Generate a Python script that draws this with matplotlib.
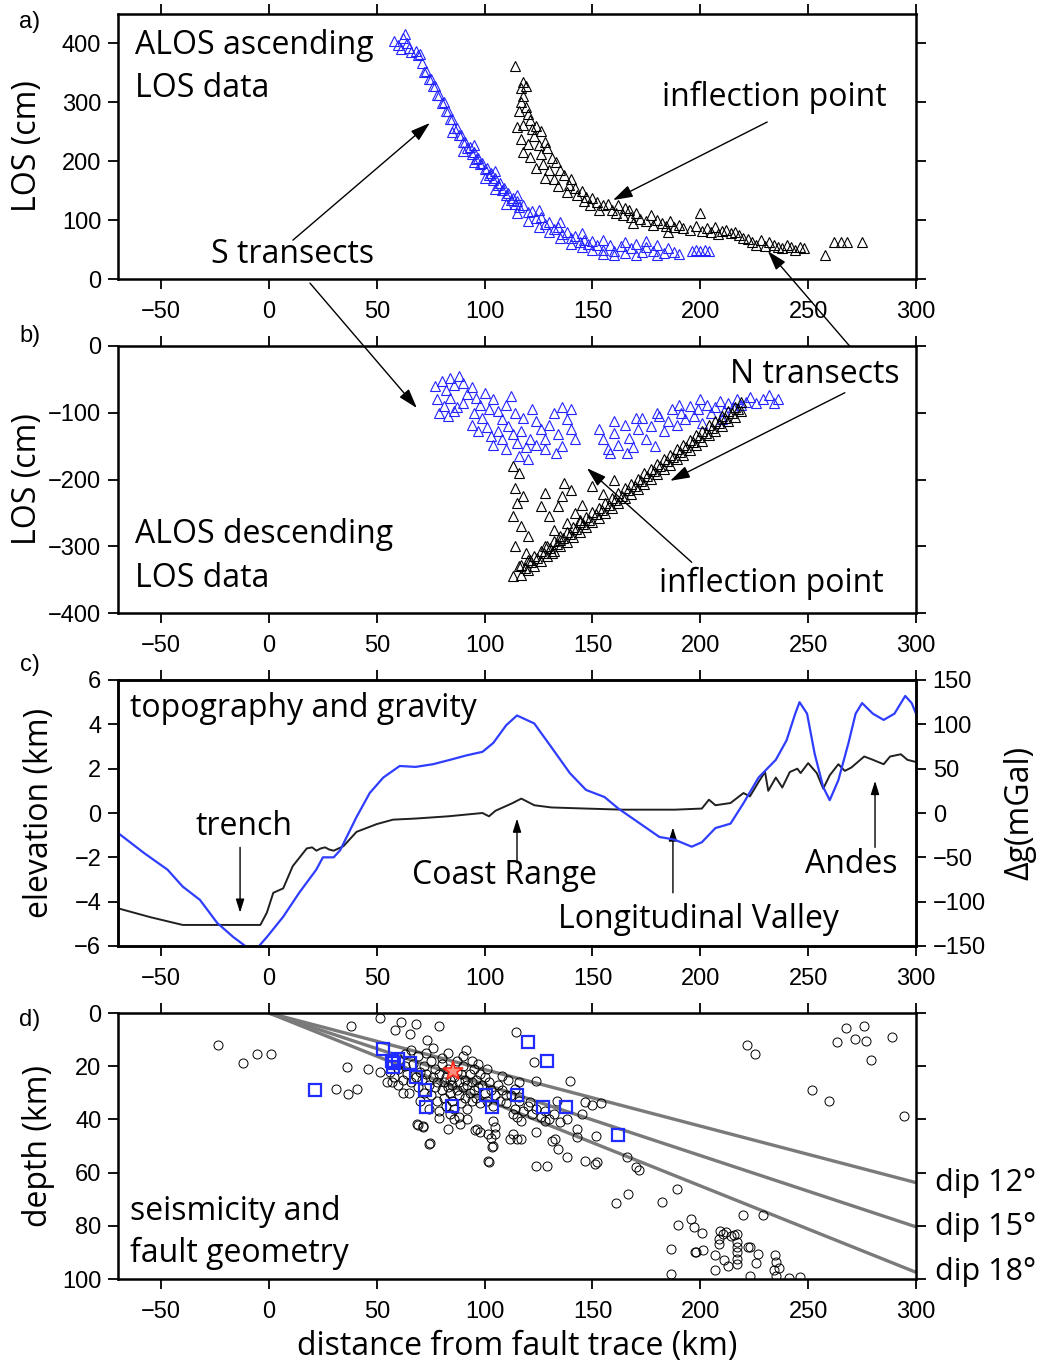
import matplotlib.pyplot as plt
import numpy as np

plt.rcParams['font.family'] = ['Liberation Sans', 'DejaVu Sans']
plt.rcParams['axes.unicode_minus'] = True

TEXT_FONT = ['Open Sans', 'DejaVu Sans']
BLUE = '#2323ff'
GRAV_BLUE = '#2f3dff'

# ---- a) ascending LOS, S transects (blue) and N transects (black)
asc_s_x = [58, 60, 61, 62, 63, 64, 65, 66, 68, 69, 70,
           71, 72, 73, 74, 75, 76, 77, 78, 79, 80, 81, 82, 83, 84, 85, 86, 87, 88, 89, 90,
           91, 92, 93, 94, 95, 96, 97, 98, 99, 100, 101, 102, 103, 104, 105, 106, 107, 108,
           109, 110, 111, 112, 113, 114, 115, 116,
           118, 120, 122, 124, 126, 128, 130, 132, 134, 136, 138, 140, 142, 144, 146, 148, 150, 152,
           155, 158, 160, 163, 165, 168, 170, 173, 175, 178, 180, 183, 185, 188,
           196, 198, 200, 202, 204,
           85, 90, 95, 100, 105, 110, 115, 120, 125, 130, 135, 140, 145, 150, 155, 160, 170, 180, 190,
           95, 105, 115, 125, 135, 145, 155, 165, 175]
asc_s_y = [405, 398, 390, 410, 416, 400, 392, 385, 388, 380, 382,
           366, 352, 354, 340, 339, 328, 327, 313, 312, 299, 300, 285, 285, 271, 271, 257, 257, 244, 244, 232,
           233, 222, 224, 213, 215, 204, 206, 195, 197, 186, 188, 177, 180, 168, 171, 160, 163, 151,
           154, 143, 146, 134, 137, 128, 132, 123,
           125, 113, 115, 103, 105, 93, 96, 85, 88, 77, 80, 70, 73, 63, 67, 60, 64, 57,
           50, 58, 48, 56, 45, 52, 60, 46, 55, 48, 58, 44, 52, 46,
           48, 50, 48, 50, 48,
           250, 218, 198, 172, 152, 128, 112, 98, 88, 80, 70, 60, 54, 50, 42, 40, 40, 40, 42,
           228, 184, 142, 118, 96, 78, 66, 62, 64]

asc_n_x = [114, 117, 118, 119, 118, 117, 119, 116, 120, 121, 118, 115, 122, 124, 126, 123, 117, 120,
           125, 128, 129, 126, 121, 118, 131, 133, 127, 124, 130, 135, 137, 132, 128, 140, 139, 134,
           142, 145, 138, 143, 147, 150, 146, 152, 155, 149, 157, 159, 153, 162, 161, 165, 167, 164,
           168, 170, 172, 169, 175, 177, 178, 180, 182, 184, 186, 188, 185, 190, 192, 195, 198, 200,
           201, 203, 205, 207, 208, 210, 212, 214, 216, 218, 220, 222, 224, 226, 228, 230, 232, 234,
           236, 238, 240, 242, 244, 246, 248, 258, 262, 265, 268, 275]
asc_n_y = [362, 325, 335, 328, 310, 300, 292, 285, 280, 270, 262, 258, 255, 260, 252, 242, 238, 230,
           228, 232, 222, 212, 208, 215, 205, 198, 196, 188, 185, 185, 176, 170, 172, 170, 160, 158,
           155, 150, 148, 142, 140, 138, 132, 130, 126, 125, 128, 118, 118, 125, 112, 120, 118, 108,
           105, 112, 102, 95, 98, 108, 92, 100, 95, 90, 98, 88, 80, 92, 86, 84, 90, 112,
           82, 86, 80, 88, 76, 82, 84, 78, 80, 74, 70, 68, 63, 58, 66, 56, 62, 58,
           55, 52, 58, 54, 50, 55, 52, 40, 62, 62, 63, 62]

# ---- b) descending LOS
desc_s_x = [77, 80, 82, 84, 86, 88, 90, 78, 81, 84, 87, 90, 79, 83, 86, 92, 94, 96, 98, 100, 102,
            95, 99, 104, 106, 108, 110, 112, 94, 97, 101, 103, 106, 108, 111, 113, 115, 117, 119,
            121, 104, 110, 116, 120, 114, 118, 122, 124, 126, 128, 130, 132, 134, 136, 138, 140,
            142, 140, 136, 128, 124, 133,
            153, 155, 157, 160, 162, 165, 167, 169, 171, 173, 175, 177, 179, 181, 183, 185, 187,
            189, 191, 193, 195, 197, 199, 201, 203, 205, 207, 209, 211, 213, 215, 217, 219, 221,
            223, 226, 229, 232, 234, 236, 160, 170, 180, 190, 200, 210, 158, 166]
desc_s_y = [-60, -52, -66, -48, -58, -45, -55, -80, -90, -78, -92, -85, -100, -105, -98, -72, -62,
            -78, -88, -70, -95, -100, -108, -80, -98, -110, -88, -75, -118, -128, -122, -135, -128,
            -140, -120, -132, -145, -128, -152, -140, -148, -155, -165, -170, -100, -108, -95, -112,
            -125, -140, -118, -100, -132, -150, -110, -125, -140, -95, -92, -155, -148, -160,
            -125, -140, -155, -130, -148, -118, -138, -152, -125, -108, -140, -120, -150, -105,
            -128, -112, -95, -118, -100, -110, -90, -105, -95, -115, -88, -100, -92, -82, -98, -85,
            -92, -80, -88, -84, -76, -86, -80, -74, -86, -80, -112, -108, -100, -88, -80, -110,
            -160, -160]

desc_n_x = [113, 116, 114, 118, 115, 113, 117, 120, 114, 119, 113, 116, 121,
            126, 128, 130, 132, 134, 136, 138, 140, 135, 128, 131, 142, 144, 137,
            117, 117, 120, 120, 123, 123, 126, 126, 129, 129, 132, 132, 135, 135, 138, 138,
            141, 141, 144, 144, 147, 147, 150, 150, 153, 153, 156, 156, 159, 159, 162, 162,
            165, 165, 168, 168, 171, 171, 174, 174, 177, 177, 180, 180, 183, 183, 186, 186,
            189, 189, 192, 192, 195, 195, 198, 198, 201, 201, 204, 204, 207, 207, 210, 210,
            213, 213, 216, 216, 219, 219,
            118.5, 121.5, 124.5, 127.5, 130.5, 133.5, 136.5, 139.5, 142.5, 145.5, 148.5, 151.5,
            154.5, 157.5, 160.5, 163.5, 166.5, 169.5, 172.5, 175.5, 178.5, 181.5, 184.5, 187.5,
            190.5, 193.5, 196.5, 199.5, 202.5, 205.5, 208.5, 211.5, 214.5, 217.5,
            150, 155, 145, 160]
desc_n_y = [-180, -190, -212, -225, -235, -255, -270, -285, -300, -310, -345, -330, -320,
            -240, -220, -255, -275, -240, -225, -265, -215, -290, -300, -310, -250, -260, -205,
            -343, -328, -336, -321, -329, -314, -322, -307, -314, -299, -307, -292, -300, -285,
            -293, -278, -286, -271, -278, -263, -271, -256, -264, -249, -257, -242, -250, -235,
            -242, -227, -235, -220, -228, -213, -221, -206, -214, -199, -206, -191, -199, -184,
            -192, -177, -185, -170, -178, -163, -170, -155, -163, -148, -156, -141, -149, -134,
            -142, -127, -134, -119, -127, -112, -120, -105, -113, -98, -106, -91, -98, -84,
            -332, -324, -317, -310, -303, -296, -288, -281, -274, -267, -260, -252,
            -245, -238, -231, -224, -216, -209, -202, -195, -188, -180, -173, -166,
            -159, -152, -144, -137, -130, -123, -116, -108, -101, -94,
            -210, -222, -238, -200]

# ---- c) topography (km) and gravity anomaly (mGal)
topo_x = [-70, -55, -40, -24, -4, -1, 2, 6.6, 11, 17.5, 20, 22, 24, 26, 28, 30, 34.5, 40.6, 50,
          57.5, 68, 83, 99, 102, 105, 113, 117, 123, 131, 147, 164, 188, 200.7, 204, 207, 214,
          220, 223, 227, 230, 231.5, 235, 238, 241.5, 245, 246.5, 250, 254, 257, 260, 264, 267,
          270, 276, 280, 285, 288, 293, 296, 300]
topo_km = [-4.3, -4.7, -5.05, -5.05, -5.05, -4.5, -3.6, -3.4, -2.4, -1.6, -1.55, -1.7, -1.6,
           -1.55, -1.65, -1.7, -1.5, -0.85, -0.5, -0.3, -0.25, -0.15, 0, -0.15, 0.1, 0.45, 0.65,
           0.35, 0.25, 0.2, 0.15, 0.15, 0.2, 0.6, 0.35, 0.45, 0.9, 0.75, 1.4, 1.85, 1.0, 1.6,
           1.15, 1.85, 2.0, 1.8, 2.25, 1.8, 1.1, 1.7, 2.2, 1.9, 2.05, 2.55, 2.4, 2.2, 2.55, 2.65,
           2.4, 2.3]

grav_x = [-70, -58, -47, -40, -32, -24, -16.5, -11, -8, -4.6, -1, 6.6, 14, 21.9, 25, 30, 33,
          40.6, 46.7, 53, 60.6, 68, 76, 84, 91.6, 99, 104, 110, 115, 123, 131, 139.5, 147, 155.6,
          162, 171.5, 181, 188, 196, 200.7, 207, 214, 220, 227, 235, 240, 244, 246, 249.5, 253,
          257, 260, 264, 268.7, 272, 275, 280, 285, 290, 295, 298, 300]
grav_mgal = [-22.5, -45, -64, -83, -98, -124, -140, -150, -158, -150, -140, -117, -90, -64, -50,
             -50, -42, -4.5, 22.5, 40, 53, 52, 55, 60, 65, 69, 79, 99, 110, 101, 74, 45, 26, 18,
             5, -11, -27, -30, -38, -33, -17, -12, 11, 40, 60, 82, 112, 125, 112, 67, 29, 14.5,
             37, 79, 112, 124, 112, 105, 112, 132, 124, 112]

# ---- d) seismicity, focal-mechanism events, mainshock and dip lines
quake_x = [-23.6, -12, -5.6, 0.8, 31, 36.7, 40.6, 36.3, 38, 46, 51.5, 51.5, 54.5, 58.4, 61, 65.6,
           68.4, 73.4, 79, 69, 71.6, 74.5, 79, 83, 88.5, 86, 91.3, 101, 95.5, 98, 101.7, 104, 103,
           103.4, 102, 111.7, 114.5, 108, 111, 114,
           63, 116, 124, 123, 139.5, 110, 116, 121, 133.5, 146.5, 154, 145, 113, 115, 117, 128,
           105, 105, 96.5, 113, 117, 115, 124, 132.6, 134, 143, 143, 151.5, 138, 146.5, 151, 152,
           101.5, 104, 124, 129, 166, 170, 68.5, 71.5, 74, 150, 131, 171.5, 166.4, 161, 182, 189,
           189.6, 186.6, 186.4, 195.6, 197, 201, 197.5, 198, 201.3, 207, 209, 210.5, 212, 208.5,
           208.5, 207, 211, 213, 214, 215.5, 217, 217, 217, 217, 217, 217, 220, 222, 223, 226.7,
           226, 223, 229, 234.5, 235, 236.5, 234, 235, 241, 246, 221.6, 225.5, 252, 259.6, 263.5,
           267.5, 271.7, 275.7, 277, 279, 288.8, 294.6,
           56, 58, 60, 62, 63, 64, 66, 67, 68, 69, 70, 71, 72, 72, 73, 74, 75, 75, 76, 77, 77, 78,
           78, 79, 80, 80, 81, 81, 82, 82, 83, 83, 84, 84, 85, 85, 86, 86, 87, 87, 88, 88, 89, 89,
           90, 90, 91, 91, 92, 92, 93, 93, 94, 94, 95, 95, 96, 96, 97, 98, 98, 99, 100, 100, 101,
           102, 103, 104, 105, 106, 107, 108, 110, 112, 114, 116, 118, 120, 122, 124, 126, 128,
           130, 132, 135, 138, 65, 70, 74, 79, 84, 88, 92, 60, 62, 57, 66, 69, 73, 76, 80, 83, 87,
           90, 94, 97]
quake_d = [12, 18.7, 15.5, 15.3, 28.7, 30.5, 28.4, 20.2, 5, 21, 2, 22, 26, 6.4, 3.5, 8,
           4, 10, 4.8, 42, 43, 49, 39.6, 43.5, 41.6, 40, 14, 21, 44, 44.7, 45.6, 40.6, 47,
           50.5, 56, 47.5, 7, 23.7, 25.2, 28.4,
           15.4, 26, 25.4, 18.6, 25.4, 31, 31.7, 33.6, 33, 33.6, 34, 38, 38, 39.2, 40.5, 40.5,
           43, 45.5, 43.6, 45.5, 47.4, 47.4, 44.9, 47.4, 51.1, 43.6, 46.7, 46.4, 54.3, 55.5, 56.8,
           56.1, 55.5, 49.9, 57.4, 57.4, 54.3, 58, 41.7, 42.4, 49.3, 34.5, 48, 58.9, 68, 71.4,
           71, 66, 79.8, 88.6, 98, 77.5, 80.5, 82.7, 89.8, 90, 89, 96.7, 82, 83, 82.5, 85, 87, 91,
           93, 95, 84, 83.5, 83, 86, 88, 90, 92.5, 94.5, 76, 88, 88, 90.6, 94, 99, 76, 90.8, 93.7,
           96, 96.7, 99, 99.6, 99.4, 12, 15.4, 29, 33, 11, 5.6, 9.7, 4.8, 10.4, 17.5, 9, 38.6,
           22, 24, 21, 25, 20, 23, 26, 19, 24, 28, 22, 25, 30, 20, 23, 27, 31, 18, 24, 28, 21, 33,
           26, 23, 29, 19, 26, 32, 24, 35, 28, 21, 30, 25, 33, 27, 24, 36, 29, 22, 31, 26, 34, 23,
           28, 20, 32, 25, 27, 36, 23, 30, 26, 33, 21, 29, 25, 32, 28, 23, 34, 27, 30, 24, 33, 26,
           29, 35, 31, 27, 33, 29, 34, 31, 36, 33, 37, 35, 38, 36, 39, 37, 40, 38, 41, 40, 30, 33,
           36, 37, 38, 39, 40, 27, 30, 26, 14, 16, 15, 13, 17, 15, 18, 16, 18, 19]

mech_x = [21.3, 53, 57, 58, 60, 65.4, 57.7, 68, 72.3, 72.6, 85, 100.6, 103.4, 115, 120, 129,
          127, 137.7, 161.8]
mech_d = [29, 13.5, 17.9, 18.9, 17.3, 18.9, 20.4, 24, 29, 35.2, 34.8, 30.7, 35.2, 30.8, 11,
          17.9, 35.2, 35.2, 46]

main_x = [85.2]
main_d = [21.9]

dip_deg = [12, 15, 18]
dip_x = [0, 300]


fig = plt.figure(figsize=(10.44, 13.64), dpi=100)
W, H = 1044.0, 1364.0
FS = 23


def axes_px(left, top, right, bottom):
    return fig.add_axes([left / W, 1 - bottom / H, (right - left) / W, (bottom - top) / H])


def style(ax):
    for s in ax.spines.values():
        s.set_linewidth(1.8)
    ax.set_xlim(-70, 300)
    ax.set_xticks(np.arange(-50, 301, 50))
    ax.tick_params(direction='out', length=7, width=1.3, top=True, right=True,
                   labelsize=17)
    ax.tick_params(axis='x', pad=9)
    ax.tick_params(axis='y', pad=5)


def ylab(ax, s, xpos):
    ax.set_ylabel(s, family=TEXT_FONT, fontsize=FS, va='center')
    ax.yaxis.set_label_coords(xpos, 0.5)


def say(ax, x, y, s, **kw):
    kw.setdefault('fontsize', FS)
    ax.text(x, y, s, family=TEXT_FONT, **kw)


def arrow(ax, xy, xytext, small=False, textcoords='data'):
    if small:
        st = '-|>,head_length=0.9,head_width=0.28'
        ms, lw = 9, 1.0
    else:
        st = '-|>,head_length=0.8,head_width=0.25'
        ms, lw = 15, 1.0
    ax.annotate('', xy=xy, xytext=xytext, textcoords=textcoords, annotation_clip=False,
                arrowprops=dict(arrowstyle=st, mutation_scale=ms, lw=lw, color='k',
                                shrinkA=0, shrinkB=0))


ax_a = axes_px(118, 14, 916, 279)
ax_b = axes_px(118, 346, 916, 613)
ax_c = axes_px(118, 680, 916, 946)
ax_d = axes_px(118, 1013, 916, 1279)

tri = dict(marker='^', linestyle='none', markersize=7.5, mfc='none', mew=0.8)

# a)
style(ax_a)
ax_a.plot(asc_s_x, asc_s_y, color=BLUE, **tri)
ax_a.plot(asc_n_x, asc_n_y, color='k', **tri)
ax_a.set_ylim(0, 450)
ax_a.set_yticks(np.arange(0, 401, 100))
ylab(ax_a, 'LOS (cm)', -0.113)
say(ax_a, -62, 397, 'ALOS ascending', va='center')
say(ax_a, -62, 324, 'LOS data', va='center')
say(ax_a, 234.5, 309, 'inflection point', ha='center', va='center')
arrow(ax_a, (159.5, 134), (231, 266.6))
say(ax_a, 11, 41, 'S transects', ha='center', va='center')
arrow(ax_a, (74.6, 265), (11.1, 66))

# b)
style(ax_b)
ax_b.plot(desc_s_x, desc_s_y, color=BLUE, **tri)
ax_b.plot(desc_n_x, desc_n_y, color='k', **tri)
ax_b.set_ylim(-400, 0)
ax_b.set_yticks(np.arange(-400, 1, 100))
ylab(ax_b, 'LOS (cm)', -0.113)
say(ax_b, -62, -283, 'ALOS descending', va='center')
say(ax_b, -62, -348, 'LOS data', va='center')
say(ax_b, 253, -43, 'N transects', ha='center', va='center')
arrow(ax_b, (186, -202), (267, -70))
say(ax_b, 233, -355, 'inflection point', ha='center', va='center')
arrow(ax_b, (147.4, -183), (196, -324))
# arrows that run from one panel into the other
arrow(ax_b, (68.6, -93), (19, -7), textcoords=ax_a.transData)
arrow(ax_a, (231.3, 47.5), (274, -18), textcoords=ax_b.transData)

# c)
style(ax_c)
ax_c.plot(topo_x, topo_km, color='#202020', lw=1.4)
ax_c.set_ylim(-6, 6)
ax_c.set_yticks(np.arange(-6, 7, 2))
ax_c.tick_params(right=False)
ylab(ax_c, 'elevation (km)', -0.098)
ax_g = ax_c.twinx()
ax_g.plot(grav_x, grav_mgal, color=GRAV_BLUE, lw=1.6)
ax_g.set_ylim(-150, 150)
ax_g.set_yticks(np.arange(-150, 151, 50))
for s in ax_g.spines.values():
    s.set_linewidth(1.8)
ax_g.tick_params(direction='out', length=7, width=1.3, labelsize=17, pad=5)
ylab(ax_g, 'Δg(mGal)', 1.13)
say(ax_c, -64.4, 4.73, 'topography and gravity', va='center')
say(ax_c, -11.6, -0.59, 'trench', ha='center', va='center')
arrow(ax_c, (-13.4, -4.5), (-13.4, -1.55), small=True)
say(ax_c, 109.4, -2.8, 'Coast Range', ha='center', va='center')
arrow(ax_c, (115, -0.25), (115, -2.25), small=True)
say(ax_c, 199, -4.82, 'Longitudinal Valley', ha='center', va='center')
arrow(ax_c, (187.3, -0.65), (187.3, -3.6), small=True)
say(ax_c, 270, -2.34, 'Andes', ha='center', va='center')
arrow(ax_c, (281, 1.45), (281, -1.55), small=True)

# d)
style(ax_d)
for dip in dip_deg:
    ends = [x * np.tan(np.radians(dip)) for x in dip_x]
    ax_d.plot(dip_x, ends, color='#7a7a7a', lw=2.4, solid_capstyle='butt')
    say(ax_d, 309, ends[-1], 'dip %d°' % dip, va='center', clip_on=False, fontsize=22)
ax_d.plot(quake_x, quake_d, marker='o', linestyle='none', markersize=6.5, mfc='none',
          mec='k', mew=0.7)
ax_d.plot(mech_x, mech_d, marker='s', linestyle='none', markersize=8, mfc='none',
          mec='#1f2bff', mew=1.6)
ax_d.plot(main_x, main_d, marker='*', linestyle='none', markersize=15, mfc='#ff9080',
          mec='#ff2a1a', mew=1.2)
ax_d.set_ylim(100, 0)
ax_d.set_yticks(np.arange(0, 101, 20))
ylab(ax_d, 'depth (km)', -0.1)
ax_d.set_xlabel('distance from fault trace (km)', family=TEXT_FONT, fontsize=FS,
                va='center')
ax_d.xaxis.set_label_coords(0.5, -0.252)
say(ax_d, -64.4, 74.8, 'seismicity and', va='center')
say(ax_d, -64.4, 90.2, 'fault geometry', va='center')

for lab, ypx in [('a)', 22), ('b)', 336), ('c)', 665), ('d)', 1020)]:
    fig.text(30 / W, 1 - ypx / H, lab, fontsize=17, ha='center', va='center')

fig.savefig('out.png', dpi=100)
